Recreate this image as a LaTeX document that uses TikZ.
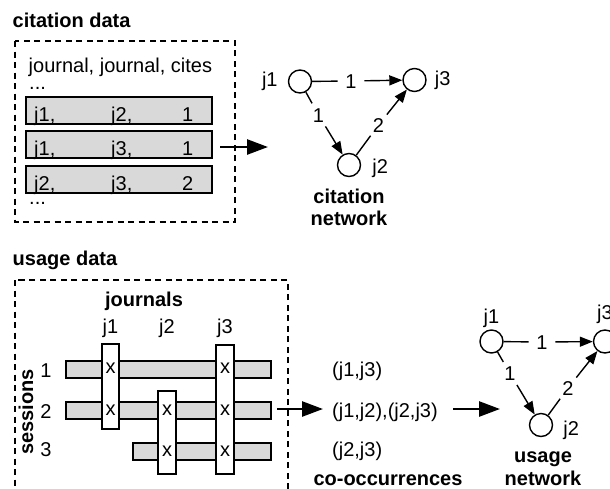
\documentclass[tikz,border=0pt]{standalone}
\usepackage{fontspec}
\setmainfont{Liberation Sans}
\usetikzlibrary{positioning,arrows.meta}
\definecolor{barfill}{gray}{0.85}

\begin{document}
\begin{tikzpicture}[x=1pt,y=-1pt,
  font=\fontsize{20}{23}\selectfont,
  every node/.style={inner sep=0pt},
  heading/.style  ={font=\fontsize{20}{23}\selectfont\bfseries},
  groupbox/.style ={draw,line width=1.3pt,dash pattern=on 6pt off 4.5pt},
  recbox/.style   ={draw,fill=barfill,line width=1.4pt},
  colbar/.style   ={draw,fill=white,line width=1.4pt},
  journal/.style  ={circle,draw,line width=1.4pt,minimum size=23pt},
  weight/.style   ={circle,inner sep=3pt,text height=14pt,text depth=0pt},
  link/.style     ={line width=1.4pt},
  linkarrow/.style={line width=1.4pt,-{Triangle[length=13pt,width=10pt]}},
  flow/.style     ={line width=2.6pt,-{Triangle[length=21pt,width=15pt]}}
]
  % ----- page frame (reference is 610 x 488) -----
  \useasboundingbox (0,0) rectangle (610,488);
  \clip (0,0) rectangle (610,488);

  % ----- citation data -----
  \node[heading,anchor=base west] (citetitle) at (12.5,27) {citation data};
  \draw[groupbox] (15,41) rectangle (235,222);
  \node[anchor=base west] (citehead) at (28.5,72) {journal, journal, cites};
  \node[anchor=base west] (dotsup) at (29,89) {...};

  % one record per row
  \draw[recbox] (26,97) rectangle (212,124);
  \draw[recbox] (26,131) rectangle (212,158);
  \draw[recbox] (26,166) rectangle (212,193);
  \node[anchor=base west] (rec1a) at (34,121) {j1,};
  \node[anchor=base west] (rec1b) at (111,121) {j2,};
  \node[anchor=base west] (rec1c) at (182,121) {1};
  \node[anchor=base west] (rec2a) at (34,155) {j1,};
  \node[anchor=base west] (rec2b) at (111,155) {j3,};
  \node[anchor=base west] (rec2c) at (182,155) {1};
  \node[anchor=base west] (rec3a) at (34,190) {j2,};
  \node[anchor=base west] (rec3b) at (111,190) {j3,};
  \node[anchor=base west] (rec3c) at (182,190) {2};
  \node[anchor=base west] (dotsdown) at (29,204) {...};

  \coordinate (citefrom) at (220,147);
  \coordinate (citeto) at (268,147);
  \draw[flow] (citefrom) -- (citeto);

  % ----- citation network -----
  \node[journal] (c1) at (300,81.5) {};
  \node[journal] (c3) at (414.5,80) {};
  \node[journal] (c2) at (349,165) {};
  \node[left=10pt of c1] (c1lab) {j1};
  \node[right=8pt of c3] (c3lab) {j3};
  \node[right=11pt of c2,yshift=-3pt] (c2lab) {j2};

  \node[weight] (w13) at (351,81) {1};
  \node[weight] (w12) at (318.5,115) {1};
  \node[weight] (w23) at (378.5,125) {2};
  \draw[link] (c1) -- (w13);
  \draw[linkarrow] (w13) -- (c3);
  \draw[link] (c1) -- (w12);
  \draw[linkarrow] (w12) -- (c2);
  \draw[link] (c2) -- (w23);
  \draw[linkarrow] (w23) -- (c3);

  \node[heading,anchor=base] (citenet) at (349,203) {citation};
  \node[heading,anchor=base] (citenet2) at (349,225) {network};

  % ----- usage data -----
  \node[heading,anchor=base west] (usetitle) at (12.5,265) {usage data};
  \draw[groupbox] (15,280) rectangle (288,500); % runs off the bottom
  \node[heading,anchor=base] (jtitle) at (144,306) {journals};
  \node[anchor=base] (colj1) at (110.5,333) {j1};
  \node[anchor=base] (colj2) at (167,333) {j2};
  \node[anchor=base] (colj3) at (225,333) {j3};
  \node[heading,rotate=90,anchor=base] (sessions) at (33,412) {sessions};
  \node[anchor=base] (ses1) at (46,377) {1};
  \node[anchor=base] (ses2) at (46,418) {2};
  \node[anchor=base] (ses3) at (46,456) {3};

  % sessions (grey) first, journals (white) on top
  \draw[recbox] (66,361) rectangle (271,378);
  \draw[recbox] (66,402) rectangle (271,419);
  \draw[recbox] (133,443) rectangle (271,460);
  \draw[colbar] (102,344) rectangle (119,429);
  \draw[colbar] (158,391) rectangle (176,474);
  \draw[colbar] (216,345) rectangle (234,474);

  \node[anchor=base] (x11) at (110.5,373.5) {x};
  \node[anchor=base] (x13) at (225,373.5) {x};
  \node[anchor=base] (x21) at (110.5,415) {x};
  \node[anchor=base] (x22) at (167,415) {x};
  \node[anchor=base] (x23) at (225,415) {x};
  \node[anchor=base] (x32) at (167,456.5) {x};
  \node[anchor=base] (x33) at (225,456.5) {x};

  % ----- co-occurrences -----
  \node[anchor=base west] (pair1) at (332,376) {(j1,j3)};
  \node[anchor=base west] (pair2) at (332,417) {(j1,j2),(j2,j3)};
  \node[anchor=base west] (pair3) at (332,456) {(j2,j3)};
  \node[heading,anchor=base] (cooc) at (388,485) {co-occurrences};

  \coordinate (usefrom) at (277,409);
  \coordinate (useto) at (323,409);
  \coordinate (pairfrom) at (453,409);
  \coordinate (pairto) at (500,409);
  \draw[flow] (usefrom) -- (useto);
  \draw[flow] (pairfrom) -- (pairto);

  % ----- usage network -----
  \node[journal] (u1) at (491.5,341.5) {};
  \node[journal] (u3) at (605,341.5) {};
  \node[journal] (u2) at (541,425) {};
  \node[above=1pt of u1] (u1lab) {j1};
  \node[above=5pt of u3] (u3lab) {j3};
  \node[right=10pt of u2,yshift=-5pt] (u2lab) {j2};

  \node[weight] (v13) at (542,342) {1};
  \node[weight] (v12) at (510,373.5) {1};
  \node[weight] (v23) at (568,388) {2};
  \draw[link] (u1) -- (v13);
  \draw[linkarrow] (v13) -- (u3);
  \draw[link] (u1) -- (v12);
  \draw[linkarrow] (v12) -- (u2);
  \draw[link] (u2) -- (v23);
  \draw[linkarrow] (v23) -- (u3);

  \node[heading,anchor=base] (usenet) at (543,462) {usage};
  \node[heading,anchor=base] (usenet2) at (543,485) {network};
\end{tikzpicture}
\end{document}
